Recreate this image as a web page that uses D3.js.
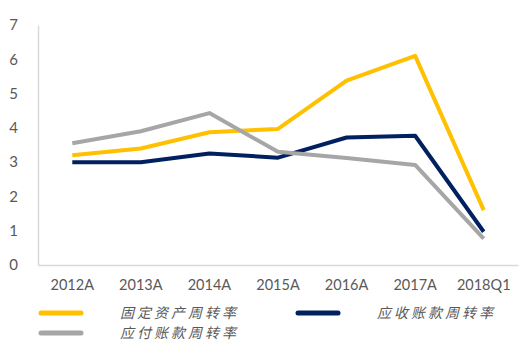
<!DOCTYPE html>
<html>
<head>
<meta charset="utf-8">
<script src="https://cdn.jsdelivr.net/npm/d3@7"></script>
<style>
  body { margin: 0; background: #fff; }
  text { font-family: "Noto Sans CJK SC", "DejaVu Sans", sans-serif; fill: #595959; }
  .tick text { font-family: Lato, "Noto Sans", sans-serif; }
</style>
</head>
<body>
<div id="chart"></div>
<script>
// chart data
const categories = ['2012A', '2013A', '2014A', '2015A', '2016A', '2017A', '2018Q1'];
const fixedAssetTurnover = [3.2, 3.4, 3.87, 3.97, 5.38, 6.1, 1.6];
const receivableTurnover = [3.0, 3.0, 3.25, 3.13, 3.72, 3.77, 0.97];
const payableTurnover = [3.55, 3.9, 4.43, 3.3, 3.12, 2.92, 0.77];
const yTicks = [0, 1, 2, 3, 4, 5, 6, 7];

const seriesList = [
  { name: '固定资产周转率', values: fixedAssetTurnover, color: '#FFC000' },
  { name: '应收账款周转率', values: receivableTurnover, color: '#002060' },
  { name: '应付账款周转率', values: payableTurnover, color: '#A6A6A6' }
];

const width = 520, height = 351;
const margin = { top: 25, right: 2, bottom: 86, left: 38 };

const svg = d3.select('#chart').append('svg')
  .attr('width', width)
  .attr('height', height);

const x = d3.scaleBand()
  .domain(categories)
  .range([margin.left, width - margin.right]);

const y = d3.scaleLinear()
  .domain([0, 7])
  .range([height - margin.bottom, margin.top]);

// y axis
const yAxis = svg.append('g')
  .attr('transform', `translate(${margin.left},0)`)
  .call(d3.axisLeft(y).tickValues(yTicks).tickFormat(d3.format('d')).tickSize(0).tickPadding(20));
yAxis.select('.domain').attr('stroke', '#d9d9d9').attr('stroke-width', 1.5);
yAxis.selectAll('text').style('font-size', '15px').attr('fill', '#595959');

// x axis
const xAxis = svg.append('g')
  .attr('transform', `translate(0,${y(0)})`)
  .call(d3.axisBottom(x).tickSize(0).tickPadding(15));
xAxis.select('.domain').attr('stroke', '#d9d9d9').attr('stroke-width', 1.5);
xAxis.selectAll('text').style('font-size', '14.5px').attr('fill', '#595959');

// lines
const line = d3.line()
  .x((d, i) => x(categories[i]) + x.bandwidth() / 2)
  .y(d => y(d));

svg.selectAll('.series')
  .data(seriesList)
  .enter()
  .append('path')
  .attr('class', 'series')
  .attr('fill', 'none')
  .attr('stroke', d => d.color)
  .attr('stroke-width', 4)
  .attr('stroke-linejoin', 'round')
  .attr('d', d => line(d.values));

// legend
const legendPos = [
  { x: 41, y: 313 },
  { x: 298, y: 313 },
  { x: 41, y: 333 }
];

const legend = svg.selectAll('.legend')
  .data(seriesList)
  .enter()
  .append('g')
  .attr('class', 'legend')
  .attr('transform', (d, i) => `translate(${legendPos[i].x},${legendPos[i].y})`);

legend.append('line')
  .attr('x1', 0).attr('x2', 40)
  .attr('stroke', d => d.color)
  .attr('stroke-width', 5)
  .attr('stroke-linecap', 'round');

legend.append('text')
  .attr('x', 79)
  .attr('dy', '0.35em')
  .style('font-size', '14px')
  .style('letter-spacing', '3px')
  .style('font-style', 'italic')
  .text(d => d.name);
</script>
</body>
</html>
